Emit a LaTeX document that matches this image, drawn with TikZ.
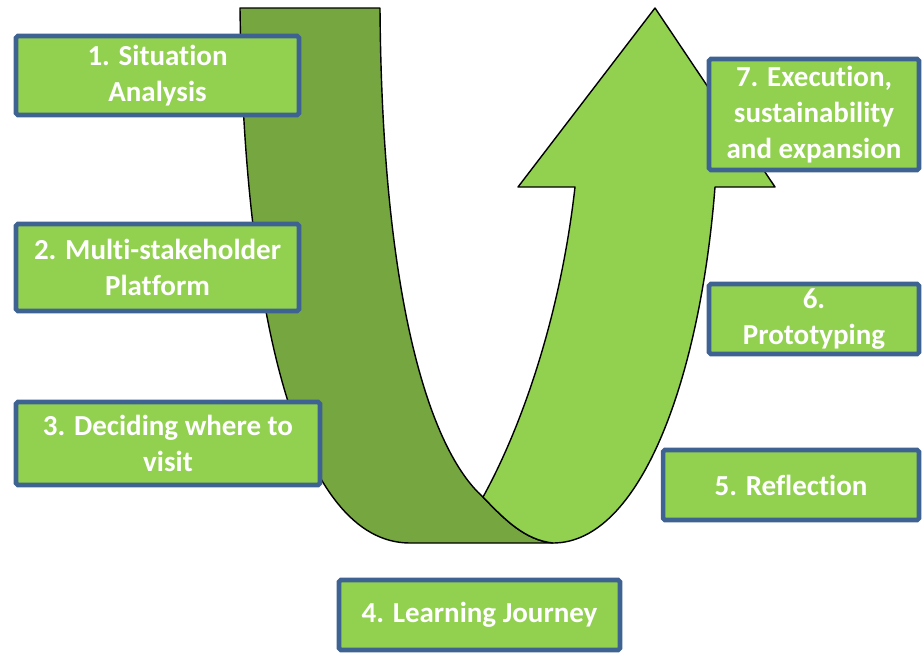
\documentclass[tikz,border=0pt]{standalone}
\usepackage{fontspec}
\setmainfont{Carlito}[Ligatures=NoCommon]
\usetikzlibrary{positioning}
\definecolor{grassgreen}{HTML}{92D050}
\definecolor{olivegreen}{HTML}{76A640}
\definecolor{slateblue}{HTML}{3E6291}
\tikzset{stagebox/.style={draw=slateblue, fill=grassgreen, line width=2.6pt, rounded corners=1pt, align=center, inner sep=0pt, text=white, font=\fontsize{16.5}{20.5}\selectfont\bfseries}}

\begin{document}
\begin{tikzpicture}[x=0.02cm,y=-0.02cm]
\useasboundingbox (0,0) rectangle (922,653);
\draw[fill=olivegreen, line width=0.8pt, line join=round] (240,8) -- (380,8) .. controls (382,300) and (430,450) .. (483,497) .. controls (505,520) and (525,540) .. (553,543) -- (410,543) .. controls (300,543) and (244,320) .. (240,8) -- cycle;
\draw[fill=grassgreen, line width=0.8pt, line join=round] (483,497) .. controls (505,520) and (525,540) .. (553,543) .. controls (640,543) and (700,380) .. (715,187) -- (775,187) -- (655,8) -- (518,187) -- (575,187) .. controls (560,320) and (520,430) .. (483,497) -- cycle;
\node[stagebox, minimum width=5.66cm, minimum height=1.58cm] (situation) at (157.5,75.5) {1. Situation\\Analysis};
\node[stagebox, minimum width=5.66cm, minimum height=1.74cm] (platform) at (157.5,267.5) {2. Multi-stakeholder\\Platform};
\node[stagebox, minimum width=6.08cm, minimum height=1.66cm] (deciding) at (168,443.5) {3. Deciding where to\\visit};
\node[stagebox, minimum width=5.62cm, minimum height=1.40cm] (journey) at (479.5,615) {4. Learning Journey};
\node[stagebox, minimum width=5.12cm, minimum height=1.40cm] (reflection) at (791,485) {5. Reflection};
\node[stagebox, minimum width=4.20cm, minimum height=1.40cm] (prototyping) at (814,319) {6.\\Prototyping};
\node[stagebox, minimum width=4.20cm, minimum height=2.22cm] (execution) at (814,114.5) {7. Execution,\\sustainability\\and expansion};
\end{tikzpicture}
\end{document}
